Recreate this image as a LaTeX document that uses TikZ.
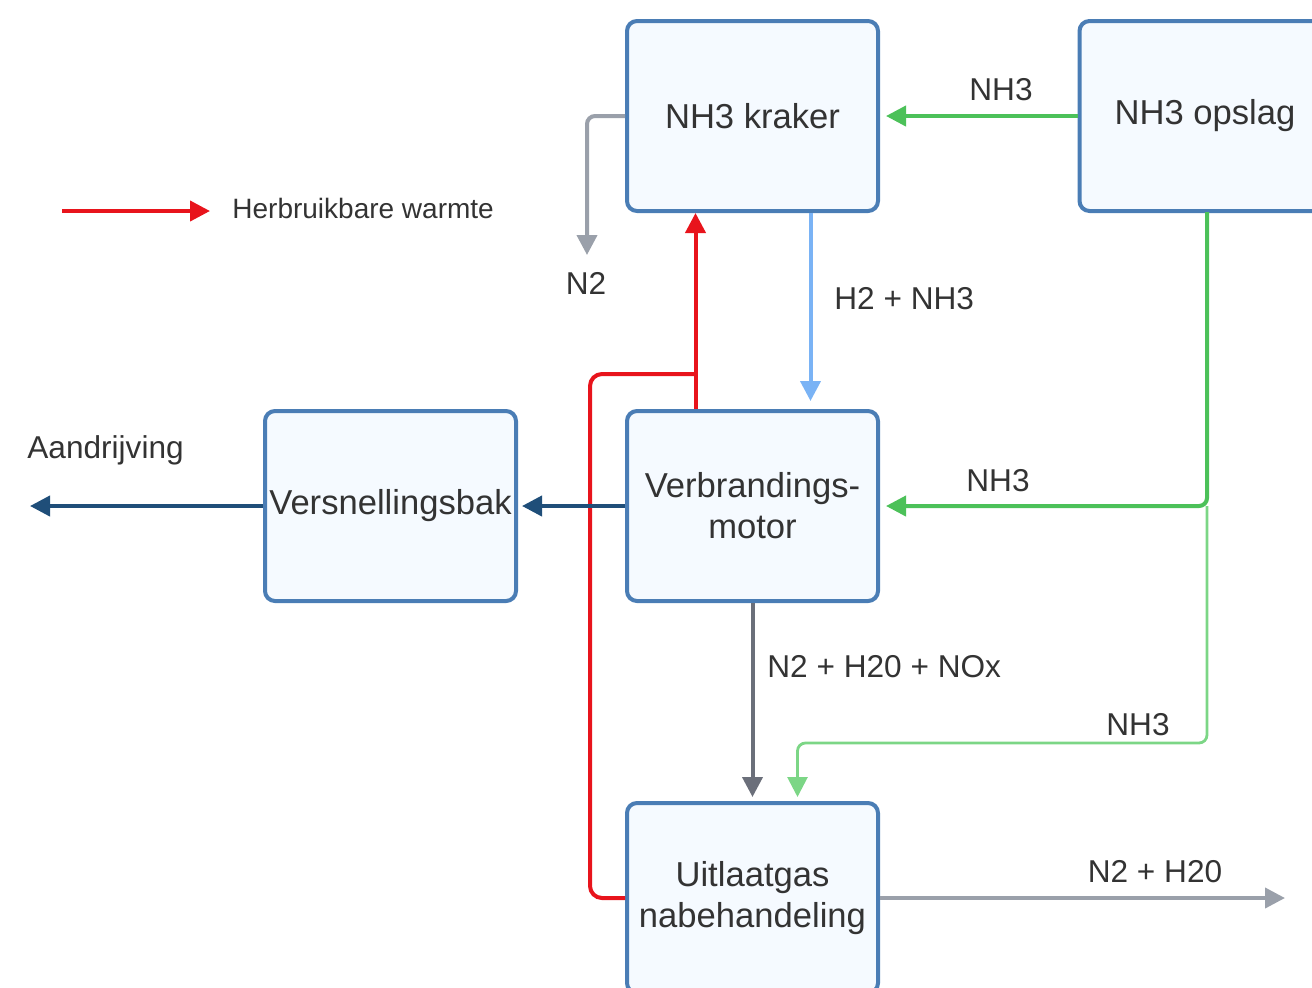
\documentclass[tikz,border=0pt]{standalone}
\usepackage{fontspec}
\setmainfont{Liberation Sans}
\usetikzlibrary{arrows.meta,calc}
\definecolor{boxborder}{HTML}{4A7DB5}
\definecolor{boxfill}{HTML}{F5FAFF}
\definecolor{txt}{HTML}{333333}
\definecolor{flowgreen}{HTML}{4CC159}
\definecolor{lightgreen}{HTML}{7CD686}
\definecolor{flowblue}{HTML}{7AB3F5}
\definecolor{flowred}{HTML}{E8141C}
\definecolor{flowgray}{HTML}{9AA0AA}
\definecolor{darkgray}{HTML}{6B6F7A}
\definecolor{darkblue}{HTML}{1F4E79}
\tikzset{
  block/.style={draw=boxborder, fill=boxfill, line width=2pt, rounded corners=5pt,
    minimum width=125.5pt, minimum height=95pt, align=center, text=txt,
    font=\fontsize{17.3}{20.5}\selectfont, inner sep=0pt},
  lbl/.style={text=txt, font=\fontsize{15.8}{19}\selectfont, inner sep=0pt},
  flow/.style={line width=2pt, -{Triangle[length=10pt,width=10pt]}, rounded corners=4pt},
}
\begin{document}
\begin{tikzpicture}[x=0.5pt,y=-0.5pt]
\useasboundingbox (0,0) rectangle (1312,987);
\clip (0,0) rectangle (1312,987);
% blocks
\node[block] (kraker) at (752.5,116) {NH3 kraker};
\node[block] (opslag) at (1205,116) {NH3 opslag};
\node[block] (motor) at (752.5,506) {Verbrandings-\\motor};
\node[block] (bak) at (390.5,506) {Versnellingsbak};
\node[block] (uitlaat) at (752.5,898) {Uitlaatgas\\nabehandeling};
% coordinates
\coordinate (n2end) at (587,255);
\coordinate (aout) at (30,506);
\coordinate (gout) at (1285,898);
\coordinate (r0) at (590,898);
\coordinate (r1) at (590,374);
\coordinate (r2) at (695,374);
\coordinate (gtop) at (1207,212);
\coordinate (gjoin) at (1207,506);
\coordinate (gbend) at (1207,743);
\coordinate (legA) at (62,211);
\coordinate (legB) at (210,211);
% green flows
\draw[flow, flowgreen, shorten >=3pt] (opslag.west) -- (kraker.east);
\draw[flow, flowgreen, shorten >=3pt] (gtop) -- (gjoin) -- (motor.east);
\draw[flow, lightgreen, line width=1.4pt, shorten >=2pt] (gjoin) -- (gbend) -| ($(uitlaat.north)+(45,0)$);
% blue
\draw[flow, flowblue, shorten >=4pt] ($(kraker.south)+(58,0)$) -- ($(motor.north)+(58,0)$);
% gray N2
\draw[flow, flowgray] (kraker.west) -| (n2end);
% red heat
\draw[flow, flowred] ($(motor.north)+(-57,0)$) -- ($(kraker.south)+(-57,0)$);
\draw[line width=2pt, flowred, rounded corners=6pt] (uitlaat.west |- r0) -- (r0) -- (r1) -- (r2);
% dark gray
\draw[flow, darkgray, shorten >=2pt] (motor.south) -- (uitlaat.north);
% dark blue
\draw[flow, darkblue, shorten >=2pt] (motor.west) -- (bak.east);
\draw[flow, darkblue] (bak.west) -- (aout);
% gray out
\draw[flow, flowgray] (uitlaat.east |- gout) -- (gout);
% legend
\draw[flow, flowred] (legA) -- (legB);
\node[text=txt, font=\fontsize{14}{17}\selectfont, anchor=west, inner sep=0pt] (legtxt) at (232,208) {Herbruikbare warmte};
% labels
\node[lbl] (l1) at (1001,90) {NH3};
\node[lbl] (l2) at (998,481) {NH3};
\node[lbl] (l3) at (1138,725) {NH3};
\node[lbl] (l4) at (586,283) {N2};
\node[lbl, anchor=west] (l5) at (834,299) {H2 + NH3};
\node[lbl, anchor=west] (l6) at (767,667) {N2 + H20 + NOx};
\node[lbl] (l7) at (1155,872) {N2 + H20};
\node[lbl, anchor=west] (l8) at (27,450) {Aandrijving};
\end{tikzpicture}
\end{document}
